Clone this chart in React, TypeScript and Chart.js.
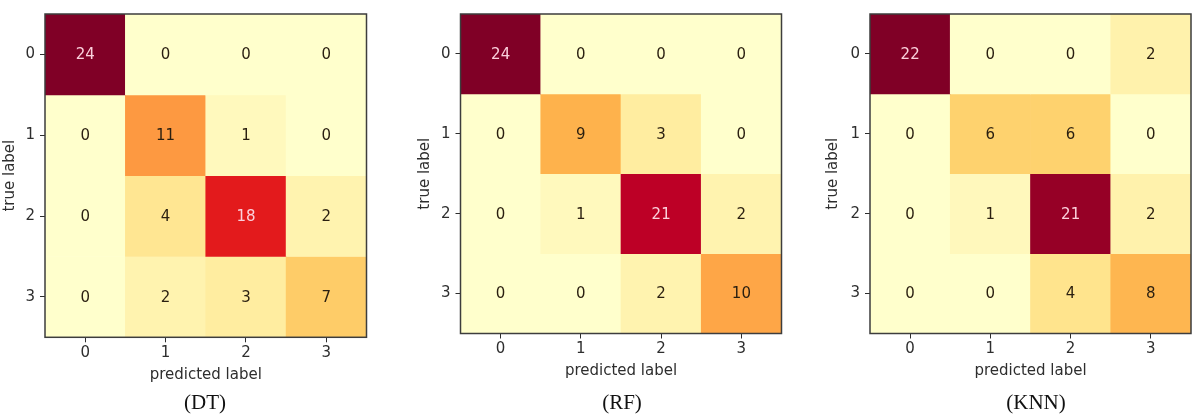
import React, { useEffect, useRef } from "react";
import { Chart, registerables } from "chart.js";

Chart.register(...registerables);

// ---- data ----
const CLASS_LABELS = ["0", "1", "2", "3"];
const DT_MATRIX = [
  [24, 0, 0, 0],
  [0, 11, 1, 0],
  [0, 4, 18, 2],
  [0, 2, 3, 7],
];
const RF_MATRIX = [
  [24, 0, 0, 0],
  [0, 9, 3, 0],
  [0, 1, 21, 2],
  [0, 0, 2, 10],
];
const KNN_MATRIX = [
  [22, 0, 0, 2],
  [0, 6, 6, 0],
  [0, 1, 21, 2],
  [0, 0, 4, 8],
];
const CAPTIONS = ["(DT)", "(RF)", "(KNN)"];
const X_TITLE = "predicted label";
const Y_TITLE = "true label";

// YlOrRd colormap stops
const YLORRD = ["#ffffcc", "#ffeda0", "#fed976", "#feb24c", "#fd8d3c", "#fc4e2a", "#e31a1c", "#bd0026", "#800026"];

function hexToRgb(h: string) {
  const n = parseInt(h.slice(1), 16);
  return [(n >> 16) & 255, (n >> 8) & 255, n & 255];
}
function cmap(t: number) {
  const c = Math.max(0, Math.min(1, t)) * (YLORRD.length - 1);
  const i = Math.min(Math.floor(c), YLORRD.length - 2);
  const f = c - i;
  const a = hexToRgb(YLORRD[i]);
  const b = hexToRgb(YLORRD[i + 1]);
  const m = a.map((v, k) => Math.round(v + (b[k] - v) * f));
  return `rgb(${m[0]},${m[1]},${m[2]})`;
}

const FONT = "'DejaVu Sans', sans-serif";
const AXIS_COLOR = "#2e2e2e";

const cellLabelPlugin = {
  id: "cellLabels",
  afterDatasetsDraw(chart: any) {
    const ctx = chart.ctx;
    ctx.save();
    ctx.font = `15px ${FONT}`;
    ctx.textAlign = "center";
    ctx.textBaseline = "middle";
    chart.data.datasets.forEach((ds: any, di: number) => {
      const meta = chart.getDatasetMeta(di);
      meta.data.forEach((el: any, ci: number) => {
        const v = ds.values[ci];
        const p = el.getProps(["x", "y", "base"], true);
        ctx.fillStyle = v > ds.threshold ? "#fbd0dc" : "#2a1f10";
        ctx.fillText(String(v), p.x, (p.y + p.base) / 2 + 1);
      });
    });
    ctx.restore();
  },
};

const framePlugin = {
  id: "frame",
  afterDraw(chart: any) {
    const { left, top, right, bottom } = chart.chartArea;
    const ctx = chart.ctx;
    ctx.save();
    ctx.strokeStyle = "#3d3d3d";
    ctx.lineWidth = 1.5;
    ctx.strokeRect(left, top, right - left, bottom - top);
    ctx.restore();
  },
};

type PanelSpec = {
  matrix: number[][];
  caption: string;
  left: number;
  width: number;
  padLeft: number;
  yAxisWidth: number;
  padTop: number;
  padRight: number;
  padBottom: number;
  captionX: number;
};

const X_AXIS_HEIGHT = 47;

function Panel({ spec }: { spec: PanelSpec }) {
  const ref = useRef<HTMLCanvasElement>(null);
  useEffect(() => {
    if (!ref.current) return;
    const m = spec.matrix;
    const vmax = Math.max(...m.flat());
    const vmin = Math.min(...m.flat());
    const threshold = (vmax + vmin) / 2;
    const datasets = m.map((row, r) => ({
      label: `true ${CLASS_LABELS[r]}`,
      data: row.map(() => 1),
      values: row,
      threshold,
      backgroundColor: row.map((v) => cmap(v / vmax)),
      borderWidth: 0,
      barPercentage: 1,
      categoryPercentage: 1,
      stack: "s",
    }));
    const chart = new Chart(ref.current, {
      type: "bar",
      data: { labels: CLASS_LABELS, datasets: datasets as any },
      options: {
        animation: false,
        responsive: false,
        layout: {
          padding: { left: spec.padLeft, top: spec.padTop, right: spec.padRight, bottom: spec.padBottom },
        },
        plugins: { legend: { display: false }, tooltip: { enabled: false } },
        scales: {
          x: {
            stacked: true,
            offset: true,
            grid: { offset: false, drawOnChartArea: false, drawTicks: true, tickLength: 5, color: AXIS_COLOR, lineWidth: 1 },
            border: { display: false },
            ticks: { color: AXIS_COLOR, font: { family: FONT, size: 15 }, padding: 2, maxRotation: 0 },
            title: { display: true, text: X_TITLE, color: AXIS_COLOR, font: { family: FONT, size: 15 }, padding: { top: 0, bottom: 0 } },
            afterFit: (s: any) => {
              s.height = X_AXIS_HEIGHT;
            },
          },
          y: {
            type: "linear",
            stacked: true,
            reverse: true,
            min: 0,
            max: CLASS_LABELS.length,
            afterBuildTicks: (s: any) => {
              s.ticks = CLASS_LABELS.map((_, i) => ({ value: i + 0.5 }));
            },
            grid: { drawOnChartArea: false, drawTicks: true, tickLength: 5, color: AXIS_COLOR, lineWidth: 1 },
            border: { display: false },
            ticks: {
              color: AXIS_COLOR,
              font: { family: FONT, size: 15 },
              padding: 5,
              callback: (v: any) => CLASS_LABELS[Math.floor(Number(v))],
            },
            title: { display: true, text: Y_TITLE, color: AXIS_COLOR, font: { family: FONT, size: 15 }, padding: { top: 1, bottom: 0 } },
            afterFit: (s: any) => {
              s.width = spec.yAxisWidth;
            },
          },
        },
      },
      plugins: [cellLabelPlugin, framePlugin],
    } as any);
    return () => chart.destroy();
  }, [spec]);
  return (
    <div style={{ position: "absolute", left: spec.left, top: 0, width: spec.width, height: 414 }}>
      <canvas ref={ref} width={spec.width} height={414} style={{ display: "block" }} />
    </div>
  );
}

const PANELS: PanelSpec[] = [
  { matrix: DT_MATRIX, caption: CAPTIONS[0], left: 0, width: 390, padLeft: 0, yAxisWidth: 45, padTop: 10, padRight: 23.5, padBottom: 414 - 337.3 - X_AXIS_HEIGHT, captionX: 205 },
  { matrix: RF_MATRIX, caption: CAPTIONS[1], left: 400, width: 400, padLeft: 15, yAxisWidth: 45.5, padTop: 7, padRight: 18.5, padBottom: 414 - 333.5 - X_AXIS_HEIGHT, captionX: 622 },
  { matrix: KNN_MATRIX, caption: CAPTIONS[2], left: 800, width: 400, padLeft: 23, yAxisWidth: 47, padTop: 7, padRight: 9, padBottom: 414 - 333.5 - X_AXIS_HEIGHT, captionX: 1036 },
];

export default function App() {
  return (
    <div style={{ position: "absolute", left: 0, top: 0, width: 1200, height: 414, background: "#fff", overflow: "hidden" }}>
      {PANELS.map((p, i) => (
        <Panel key={i} spec={p} />
      ))}
      {PANELS.map((p, i) => (
        <div
          key={"c" + i}
          style={{
            position: "absolute",
            left: p.captionX - 60,
            width: 120,
            top: 390,
            textAlign: "center",
            fontFamily: "'Liberation Serif', 'Times New Roman', serif",
            fontSize: 21,
            lineHeight: "24px",
            color: "#111",
          }}
        >
          {p.caption}
        </div>
      ))}
    </div>
  );
}
